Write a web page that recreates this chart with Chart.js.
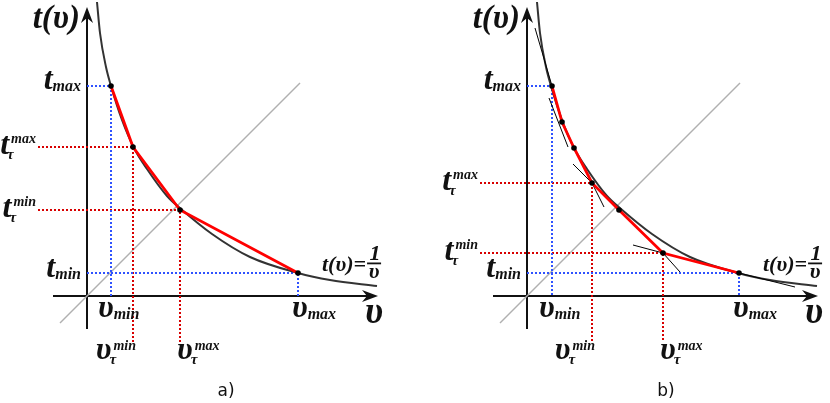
<!DOCTYPE html>
<html><head><meta charset="utf-8">
<script src="https://cdn.jsdelivr.net/npm/chart.js@4/dist/chart.umd.min.js"></script>
<style>
html,body{margin:0;padding:0;background:#fff;width:830px;height:403px;overflow:hidden}
#ca{position:absolute;left:0;top:0}
#cb{position:absolute;left:440px;top:0}
</style></head><body>
<canvas id="ca" width="440" height="403"></canvas>
<canvas id="cb" width="390" height="403"></canvas>
<script>
// ---- data (same units on both panels) ----
const curveV = [1.0, 1.3, 1.9, 2.4, 3.5, 4.7, 6.0, 8.0, 9.4, 12.5, 16.3, 21.1, 24.3, 29.0];
const curveT = [29.4, 26.3, 22.9, 21.0, 17.6, 14.8, 12.7, 10.0, 8.7, 6.2, 3.9, 2.3, 1.6, 1.0];

// panel a) : chord approximation
const aRedV = [2.4, 4.6, 9.3, 21.1];
const aRedT = [21.0, 14.9, 8.6, 2.3];
const aBounds = {tMax: 21.0, vMin: 2.4, tMin: 2.3, vMax: 21.1, tTauMax: 14.9, vTauMin: 4.6, tTauMin: 8.6, vTauMax: 9.3};

// panel b) : tangent approximation
const bRedV = [2.5, 3.5, 4.7, 6.5, 9.2, 13.6, 21.2];
const bRedT = [21.0, 17.4, 14.8, 11.3, 8.6, 4.3, 2.3];
const bBounds = {tMax: 21.0, vMin: 2.5, tMin: 2.3, vMax: 21.2, tTauMax: 11.3, vTauMin: 6.5, tTauMin: 4.3, vTauMax: 13.6};
const bTangentV = [[0.8, 2.5], [2.2, 4.1], [4.6, 6.5, 7.7], [10.6, 13.6, 15.3], [21.2, 26.8]];
const bTangentT = [[26.8, 21.0], [19.8, 14.9], [13.2, 11.3, 8.9], [5.1, 4.3, 2.4], [2.3, 0.9]];

// text labels
const labelsT = {max: 'max', min: 'min'};
const captions = ['a)', 'b)'];

// ---- layout / style (not data) ----
const DIAG = [-2.7, 21.3];
const AXIS_V = [-3.4, 29.1];
const AXIS_T = [-3.3, 28.9];
const RED_DROP = -4.6;
const SERIF = '"Liberation Serif", "DejaVu Serif", serif';
const BLUE = '#2f52ff';
const DRED = '#d80000';

function arrow(ctx, x, y, dx, dy) {
  const L = 16, W = 6, N = 5, px = -dy, py = dx;
  ctx.beginPath();
  ctx.moveTo(x, y);
  ctx.lineTo(x - dx * L + px * W, y - dy * L + py * W);
  ctx.lineTo(x - dx * (L - N), y - dy * (L - N));
  ctx.lineTo(x - dx * L - px * W, y - dy * L - py * W);
  ctx.closePath();
  ctx.fill();
}
function font(ctx, size) { ctx.font = 'italic bold ' + size + 'px ' + SERIF; }
function w(ctx, s, size) { font(ctx, size); return ctx.measureText(s).width; }
function put(ctx, s, x, y, size) { font(ctx, size); ctx.textAlign = 'left'; ctx.fillText(s, x, y); }

function subLabel(ctx, main, sub, x, y, right) {
  const wm = w(ctx, main, 32), ws = w(ctx, sub, 16);
  const x0 = right ? x - wm - ws : x;
  put(ctx, main, x0, y, 32);
  put(ctx, sub, x0 + wm, y + 2, 16);
}
function tauLabel(ctx, main, sup, x, y, right, dyMain, dySup, dyTau) {
  const wm = w(ctx, main, 32), ws = w(ctx, sup, 14);
  const total = wm + 2 + ws;
  const x0 = right ? x - total : x;
  put(ctx, main, x0, y + dyMain, 32);
  put(ctx, 'τ', x0 + wm - 2, y + dyTau, 15);
  put(ctx, sup, x0 + wm + 2, y + dySup, 14);
}

function makePanel(id, xMax, redV, redT, B, tanV, tanT, caption) {
  const ds = [];
  const pts = (vs, ts) => vs.map((v, i) => ({x: v, y: ts[i]}));
  const line = (data, color, width, dash, order, smooth) => ds.push({
    data, borderColor: color, borderWidth: width, borderDash: dash, showLine: true,
    pointRadius: 0, tension: 0, cubicInterpolationMode: smooth ? 'monotone' : 'default',
    order, clip: false, borderCapStyle: 'butt', borderJoinStyle: 'miter'
  });
  line(pts(DIAG, DIAG), '#b0b0b0', 1.5, [], 6);
  line(pts([0, B.vMin, B.vMin], [B.tMax, B.tMax, 0]), BLUE, 2, [2, 2], 5);
  line(pts([0, B.vMax, B.vMax], [B.tMin, B.tMin, 0]), BLUE, 2, [2, 2], 5);
  line(pts([B.redStart, B.vTauMin, B.vTauMin], [B.tTauMax, B.tTauMax, RED_DROP]), DRED, 2, [2, 2], 5);
  line(pts([B.redStart, B.vTauMax, B.vTauMax], [B.tTauMin, B.tTauMin, RED_DROP]), DRED, 2, [2, 2], 5);
  line(pts(curveV, curveT), '#333333', 2, [], 4, true);
  tanV.forEach((vs, i) => line(pts(vs, tanT[i]), '#000', 1, [], 3));
  line(pts(redV, redT), '#ff0000', 2.8, [], 2);
  ds.push({data: pts(redV, redT), pointRadius: 2.8, pointBackgroundColor: '#000', pointBorderWidth: 0, showLine: false, order: 1, clip: false});

  const decor = {
    id: 'decor' + id,
    beforeDatasetsDraw(chart) {
      const c = chart.ctx, X = v => chart.scales.x.getPixelForValue(v), Y = t => chart.scales.y.getPixelForValue(t);
      c.save();
      c.strokeStyle = '#111'; c.fillStyle = '#111'; c.lineWidth = 2;
      c.beginPath();
      c.moveTo(X(AXIS_V[0]), Y(0)); c.lineTo(X(AXIS_V[1]) - 8, Y(0));
      c.moveTo(X(0), Y(AXIS_T[0])); c.lineTo(X(0), Y(AXIS_T[1]) + 8);
      c.stroke();
      arrow(c, X(AXIS_V[1]), Y(0), 1, 0);
      arrow(c, X(0), Y(AXIS_T[1]), 0, -1);
      c.restore();
    },
    afterDraw(chart) {
      const c = chart.ctx, X = v => chart.scales.x.getPixelForValue(v), Y = t => chart.scales.y.getPixelForValue(t);
      c.save();
      c.fillStyle = '#111'; c.textBaseline = 'alphabetic';
      const wt = w(c, 't(υ)', 33);
      put(c, 't(υ)', X(0) - 7 - wt, Y(AXIS_T[1]) + 21, 33);
      put(c, 'υ', X(AXIS_V[1]) - 13, Y(0) + 27, 37);
      subLabel(c, 't', labelsT.max, X(0) - 6, Y(B.tMax) + 3, true);
      subLabel(c, 't', labelsT.min, X(0) - 6, Y(B.tMin) + 4, true);
      tauLabel(c, 't', labelsT.max, X(B.redStart) - 2, Y(B.tTauMax), true, 7, -4, 12);
      tauLabel(c, 't', labelsT.min, X(B.redStart) - 2, Y(B.tTauMin), true, 7, -4, 12);
      subLabel(c, 'υ', labelsT.min, X(B.vMin) - 13, Y(0) + 21, false);
      subLabel(c, 'υ', labelsT.max, X(B.vMax) - 6, Y(0) + 21, false);
      tauLabel(c, 'υ', labelsT.min, X(B.vTauMin) + 3, Y(0), true, 63, 54, 68);
      tauLabel(c, 'υ', labelsT.max, X(B.vTauMax) - 3, Y(0), false, 63, 54, 68);
      // equation t(v)=1/v
      const ex = X(B.vMax) + 24, ey = Y(B.tMin), fs = 22;
      put(c, 't(υ)=', ex, ey - 2, fs);
      const fx = ex + w(c, 't(υ)=', fs) + 1;
      const w1 = w(c, '1', fs), wv = w(c, 'υ', fs), fw = Math.max(w1, wv) + 3;
      put(c, '1', fx + (fw - w1) / 2 + 1, ey - 13, fs);
      c.fillRect(fx, ey - 10.5, fw, 1.8);
      put(c, 'υ', fx + (fw - wv) / 2, ey + 5, fs);
      c.font = '17px "DejaVu Sans", sans-serif'; c.textAlign = 'center';
      c.fillText(caption, X(0) + 139, 396);
      c.restore();
    }
  };

  return new Chart(document.getElementById(id), {
    type: 'scatter',
    data: {datasets: ds},
    options: {
      responsive: false, animation: false, events: [],
      layout: {padding: 0, autoPadding: false},
      plugins: {legend: {display: false}, tooltip: {enabled: false}},
      scales: {
        x: {type: 'linear', min: -8.7, max: xMax, display: false},
        y: {type: 'linear', min: -10.7, max: 29.6, display: false}
      }
    },
    plugins: [decor]
  });
}

makePanel('ca', 35.3, aRedV, aRedT, Object.assign({redStart: -4.9}, aBounds), [], [], captions[0]);
makePanel('cb', 30.3, bRedV, bRedT, Object.assign({redStart: -4.7}, bBounds), bTangentV, bTangentT, captions[1]);
</script>
</body></html>
